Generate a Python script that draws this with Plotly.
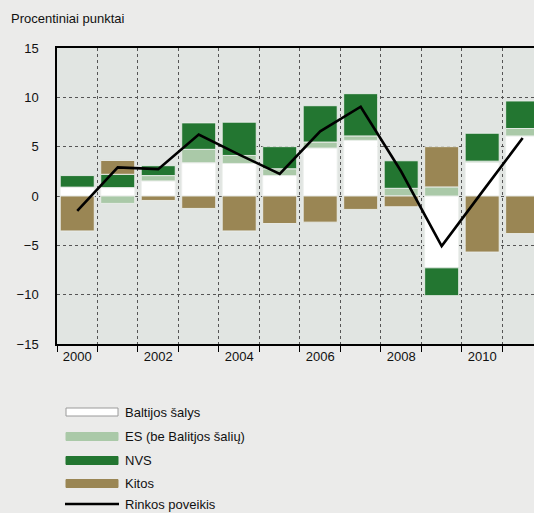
import plotly.graph_objects as go

years = list(range(2000, 2012))
tick_years = [2000, 2002, 2004, 2006, 2008, 2010]
baltijos = [0.9, 0.85, 1.53, 3.37, 3.3, 2.07, 4.86, 5.64, 0.0, -7.28, 3.43, 6.09]
es = [0.0, -0.75, 0.54, 1.36, 0.81, 0.69, 0.61, 0.45, 0.78, 0.92, 0.1, 0.75]
nvs = [1.17, 1.35, 1.0, 2.68, 3.37, 2.24, 3.68, 4.28, 2.79, -2.82, 2.83, 2.79]
kitos = [-3.54, 1.4, -0.45, -1.26, -3.54, -2.79, -2.65, -1.36, -1.09, 4.08, -5.68, -3.81]
rinkos = [-1.5, 2.9, 2.72, 6.22, 4.2, 2.24, 6.56, 9.05, 2.48, -5.07, 0.42, 5.88]

names = ["Baltijos šalys", "ES (be Balitjos šalių)", "NVS", "Kitos", "Rinkos poveikis"]
colors = ["#ffffff", "#aac9a8", "#237631", "#9a8654"]

x = list(range(len(years)))
fig = go.Figure()
for i, (vals, nm, c) in enumerate(zip([baltijos, es, nvs, kitos], names[:4], colors)):
    fig.add_trace(go.Bar(x=x, y=vals, name=nm, marker=dict(color=c, line=dict(color="rgba(235,238,235,0.9)", width=1)),
                         width=0.84, showlegend=False))
fig.add_trace(go.Scatter(x=x, y=rinkos, mode="lines", line=dict(color="#000000", width=2.6), showlegend=False,
                         name=names[4]))

# legend (swatches in paper coords)
leg_pos = [412, 436.5, 460.5, 483.5, 504]
for i, nm in enumerate(names):
    ypx = leg_pos[i]
    yp = (344 - ypx) / 296
    if i < 4:
        fig.add_shape(type="rect", xref="paper", yref="paper", x0=(66 - 57) / 477, x1=(118 - 57) / 477,
                      y0=yp - 4 / 296, y1=yp + 4 / 296, fillcolor=colors[i],
                      line=dict(color="#9a9a9a" if i == 0 else colors[i], width=1))
    else:
        fig.add_shape(type="line", xref="paper", yref="paper", x0=(65 - 57) / 477, x1=(119 - 57) / 477,
                      y0=yp, y1=yp, line=dict(color="#000000", width=2.5))
    fig.add_annotation(text=nm, xref="paper", yref="paper", x=(123 - 57) / 477, y=yp, xanchor="left",
                       yanchor="middle", showarrow=False, font=dict(size=13, color="#111111"))

fig.add_annotation(text="Procentiniai punktai", xref="paper", yref="paper", x=(9 - 57) / 477,
                   y=(344 - 19) / 296, xanchor="left", yanchor="middle", showarrow=False,
                   font=dict(size=13, color="#111111"))

fig.update_layout(
    width=534, height=513,
    margin=dict(l=57, r=0, t=48, b=169),
    paper_bgcolor="#ebebea", plot_bgcolor="#e1e5e2",
    barmode="relative", bargap=0.16,
    font=dict(family="Liberation Sans, Arial, sans-serif", size=13, color="#111111"),
    showlegend=False,
)
fig.update_xaxes(
    range=[-0.5, 11.28], tickvals=[years.index(t) for t in tick_years], ticktext=[str(t) for t in tick_years],
    showgrid=False, zeroline=False, ticks="", showline=True, linecolor="#000000", linewidth=1.5, mirror=True,
    minor=dict(tickvals=[i - 0.5 for i in range(13)], ticks="outside", ticklen=6, tickcolor="#000000",
               showgrid=True, gridcolor="#555555", griddash="dot", gridwidth=1),
    tickfont=dict(size=13),
)
fig.update_yaxes(
    range=[-15, 15], dtick=5, tick0=0, showgrid=True, gridcolor="#555555", griddash="dot", gridwidth=1,
    zeroline=False, showline=True, linecolor="#000000", linewidth=1.5, ticks="", ticklabelstandoff=14,
    tickfont=dict(size=13),
)
fig.write_html("out.html", config={"displayModeBar": False},
               post_script="document.body.style.margin='0';document.body.style.overflow='hidden';"
                           "document.body.style.background='#ebebea';")
